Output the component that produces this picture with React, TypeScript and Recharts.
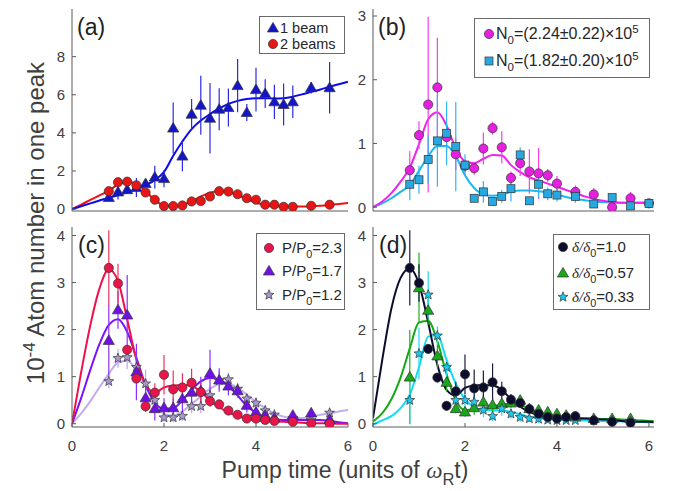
import React from 'react';
import { ComposedChart, Line, Scatter, XAxis, YAxis, ErrorBar } from 'recharts';

const FONT = '"Liberation Sans", Arial, Helvetica, sans-serif';
const AXIS = '#5a5a5a';
const TXT = '#404040';

// time grid for the fitted curves (units of omega_R t)
const fitTimes = [0, 0.2, 0.4, 0.6, 0.8, 1.0, 1.2, 1.4, 1.6, 1.8, 2.0, 2.2, 2.4, 2.6, 2.8, 3.0, 3.2, 3.4, 3.6, 3.8, 4.0, 4.2, 4.4, 4.6, 4.8, 5.0, 5.2, 5.4, 5.6, 5.8, 6.0];
const fitTimesWide = [0, 0.2, 0.4, 0.6, 0.8, 1.0, 1.2, 1.4, 1.6, 1.8, 2.0, 2.2, 2.4, 2.6, 2.8, 3.0, 3.2, 3.4, 3.6, 3.8, 4.0, 4.2, 4.4, 4.6, 4.8, 5.0, 5.2, 5.4, 5.6, 5.8, 6.0, 6.1];

// (a)
const timesA = [0.8, 1.0, 1.2, 1.4, 1.6, 1.8, 2.0, 2.2, 2.4, 2.6, 2.8, 3.0, 3.2, 3.4, 3.6, 3.8, 4.0, 4.2, 4.4, 4.6, 4.8, 5.2, 5.6];
const oneBeam = [0.61, 0.9, 1.02, 1.13, 1.34, 1.68, 1.6, 4.25, 2.78, 4.98, 5.45, 4.77, 5.24, 5.33, 6.48, 5.07, 6.27, 6.06, 5.63, 5.49, 5.63, 6.37, 6.37];
const oneBeamErr = [0.1, 0.4, 0.2, 0.5, 0.2, 0.6, 0.45, 1.35, 0.8, 0.8, 1.55, 1.85, 1.1, 1.0, 1.4, 0.45, 1.15, 0.75, 0.9, 1.1, 0.85, 0.3, 1.35];
const twoBeams = [0.94, 1.41, 1.44, 1.25, 0.87, 0.49, 0.16, 0.16, 0.19, 0.4, 0.42, 0.66, 0.94, 0.92, 0.78, 0.57, 0.49, 0.23, 0.23, 0.12, 0.12, 0.17, 0.23];
const twoBeamsErr = [0.1, 0.15, 0.2, 0.15, 0.1, 0.1, 0.08, 0.08, 0.1, 0.15, 0.15, 0.15, 0.2, 0.1, 0.1, 0.1, 0.08, 0.08, 0.08, 0.05, 0.05, 0.05, 0.05];
const oneBeamFit = [0, 0.15, 0.3, 0.45, 0.6, 0.73, 0.88, 1.05, 1.25, 1.52, 1.95, 2.8, 3.55, 4.2, 4.65, 4.98, 5.28, 5.52, 5.68, 5.78, 5.82, 5.82, 5.8, 5.82, 5.9, 6.02, 6.15, 6.28, 6.42, 6.55, 6.68];
const twoBeamsFit = [0, 0.24, 0.48, 0.72, 0.96, 1.3, 1.44, 1.34, 0.94, 0.47, 0.2, 0.16, 0.22, 0.42, 0.66, 0.86, 0.95, 0.9, 0.74, 0.53, 0.33, 0.22, 0.16, 0.14, 0.14, 0.14, 0.15, 0.18, 0.22, 0.27, 0.32];

// (b)
const timesB = [0.8, 1.0, 1.2, 1.4, 1.6, 1.8, 2.0, 2.2, 2.4, 2.6, 2.8, 3.0, 3.2, 3.4, 3.6, 3.8, 4.0, 4.4, 4.8, 5.2, 5.6, 6.0];
const n224 = [0.58, 1.13, 1.61, 1.88, 1.1, 0.83, 0.65, 0.61, 0.92, 1.24, 0.94, 0.46, 0.69, 0.56, 0.53, 0.5, 0.37, 0.24, 0.2, 0.0, 0.14, 0.06];
const n224Err = [0.3, 0.22, 1.38, 0.78, 0.2, 0.25, 0.1, 0.1, 0.25, 0.1, 0.25, 0.1, 0.2, 0.35, 0.4, 0.1, 0.12, 0.1, 0.1, 0.05, 0.1, 0.05];
const n182 = [0.36, 0.43, 0.75, 1.04, 1.16, 0.95, 0.66, 0.14, 0.24, 0.09, 0.17, 0.29, 0.82, 0.1, 0.36, 0.21, 0.19, 0.17, 0.05, 0.15, 0.02, 0.06];
const n182Err = [0.25, 0.22, 0.38, 0.72, 0.5, 0.7, 0.17, 0.05, 0.17, 0.05, 0.1, 0.2, 0.12, 0.05, 0.22, 0.1, 0.1, 0.1, 0.05, 0.05, 0.05, 0.03];
const n224Fit = [0, 0.09, 0.22, 0.4, 0.62, 0.99, 1.38, 1.49, 1.28, 0.92, 0.72, 0.69, 0.76, 0.82, 0.81, 0.66, 0.55, 0.47, 0.42, 0.37, 0.32, 0.27, 0.22, 0.17, 0.13, 0.1, 0.08, 0.07, 0.07, 0.07, 0.07, 0.07];
const n182Fit = [0, 0.06, 0.14, 0.24, 0.35, 0.57, 0.8, 0.96, 0.96, 0.8, 0.5, 0.3, 0.2, 0.18, 0.2, 0.24, 0.26, 0.26, 0.25, 0.23, 0.2, 0.16, 0.13, 0.11, 0.09, 0.08, 0.07, 0.07, 0.07, 0.07, 0.07, 0.07];

// (c) and (d)
const timesCD = [0.8, 1.0, 1.2, 1.4, 1.6, 1.8, 2.0, 2.2, 2.4, 2.6, 2.8, 3.0, 3.2, 3.4, 3.6, 3.8, 4.0, 4.2, 4.4, 4.8, 5.2, 5.6];
const p23 = [3.31, 2.98, 1.57, 0.96, 0.37, 0.66, 1.04, 0.73, 0.77, 0.87, 0.67, 0.48, 0.41, 0.28, 0.19, 0.11, 0.11, 0.08, 0.06, 0.04, 0.01, 0.0];
const p23Err = [0.8, 0.42, 0.1, 0.1, 0.1, 0.2, 0.42, 0.4, 0.3, 0.3, 0.2, 0.12, 0.1, 0.08, 0.06, 0.05, 0.05, 0.04, 0.03, 0.02, 0.02, 0.02];
const p17 = [1.77, 2.42, 2.31, 1.1, 0.55, 0.32, 0.34, 0.34, 0.53, 0.67, 0.7, 1.07, 0.93, 0.8, 0.7, 0.39, 0.25, 0.18, 0.12, 0.18, 0.23, 0.09];
const p17Err = [0.75, 0.4, 0.85, 0.6, 0.3, 0.25, 0.2, 0.2, 0.3, 0.3, 0.3, 0.5, 0.25, 0.2, 0.15, 0.15, 0.1, 0.1, 0.05, 0.05, 0.05, 0.05];
const p12 = [0.9, 1.39, 1.41, 1.2, 0.85, 0.5, 0.13, 0.13, 0.16, 0.37, 0.37, 0.6, 0.92, 0.94, 0.74, 0.53, 0.44, 0.28, 0.19, 0.12, 0.08, 0.23];
const p12Err = [0.15, 0.2, 0.25, 0.3, 0.3, 0.2, 0.1, 0.1, 0.1, 0.15, 0.15, 0.2, 0.2, 0.15, 0.1, 0.1, 0.1, 0.08, 0.05, 0.05, 0.05, 0.05];
const p23Fit = [0, 1.1, 2.1, 2.88, 3.28, 3.03, 2.22, 1.36, 0.84, 0.66, 0.77, 0.81, 0.82, 0.8, 0.68, 0.49, 0.35, 0.24, 0.16, 0.11, 0.07, 0.06, 0.05, 0.04, 0.03, 0.02, 0.01, 0.01, 0.01, 0, 0];
const p17Fit = [0, 0.55, 1.15, 1.7, 2.1, 2.22, 1.95, 1.4, 0.82, 0.45, 0.32, 0.33, 0.5, 0.72, 0.9, 0.97, 0.94, 0.8, 0.6, 0.38, 0.23, 0.14, 0.09, 0.08, 0.08, 0.08, 0.08, 0.08, 0.06, 0.03, 0.01];
const p12Fit = [0, 0.22, 0.48, 0.78, 1.06, 1.3, 1.34, 1.14, 0.8, 0.45, 0.21, 0.17, 0.26, 0.42, 0.58, 0.74, 0.84, 0.85, 0.76, 0.62, 0.46, 0.33, 0.22, 0.15, 0.12, 0.12, 0.15, 0.19, 0.22, 0.26, 0.29];

const d10 = [3.31, 2.99, 1.59, 0.98, 0.38, 0.69, 1.05, 0.75, 0.77, 0.88, 0.69, 0.51, 0.44, 0.31, 0.21, 0.14, 0.11, 0.14, 0.16, 0.07, 0.04, 0.02];
const d10Err = [0.8, 0.4, 0.1, 0.1, 0.1, 0.2, 0.42, 0.4, 0.36, 0.4, 0.2, 0.12, 0.1, 0.08, 0.06, 0.05, 0.05, 0.04, 0.03, 0.02, 0.02, 0.02];
const d057 = [0.99, 2.89, 2.41, 1.44, 0.88, 0.32, 0.25, 0.34, 0.46, 0.4, 0.43, 0.44, 0.5, 0.32, 0.29, 0.25, 0.21, 0.18, 0.14, 0.11, 0.11, 0.11];
const d057Err = [1.0, 0.75, 0.3, 0.25, 0.2, 0.1, 0.1, 0.15, 0.15, 0.15, 0.1, 0.1, 0.1, 0.1, 0.08, 0.08, 0.06, 0.05, 0.05, 0.04, 0.04, 0.04];
const d033 = [0.5, 1.49, 2.74, 1.87, 1.2, 0.5, 0.5, 0.46, 0.29, 0.16, 0.32, 0.21, 0.14, 0.11, 0.1, 0.08, 0.07, 0.07, 0.07, 0.07, 0.06, 0.05];
const d033Err = [0.5, 0.55, 0.5, 0.2, 0.2, 0.15, 0.15, 0.15, 0.15, 0.1, 0.15, 0.1, 0.1, 0.08, 0.08, 0.06, 0.06, 0.05, 0.05, 0.05, 0.05, 0.05];
const d10Fit = [0.12, 1.35, 2.45, 3.1, 3.3, 2.97, 2.15, 1.25, 0.72, 0.6, 0.76, 0.81, 0.82, 0.81, 0.72, 0.52, 0.36, 0.25, 0.18, 0.14, 0.12, 0.11, 0.11, 0.11, 0.1, 0.09, 0.08, 0.06, 0.05, 0.04, 0.04, 0.03];
const d057Fit = [0.05, 0.22, 0.52, 0.98, 1.6, 2.15, 2.18, 1.75, 1.05, 0.5, 0.29, 0.3, 0.33, 0.37, 0.4, 0.43, 0.4, 0.32, 0.24, 0.19, 0.16, 0.14, 0.12, 0.11, 0.11, 0.1, 0.1, 0.09, 0.08, 0.07, 0.06, 0.06];
const d033Fit = [-0.02, 0.07, 0.16, 0.33, 0.62, 1.2, 1.85, 1.88, 1.35, 0.85, 0.52, 0.35, 0.29, 0.28, 0.28, 0.25, 0.2, 0.15, 0.12, 0.1, 0.09, 0.08, 0.08, 0.07, 0.07, 0.06, 0.06, 0.05, 0.05, 0.04, 0.03, 0.03];

const xTicks = [0, 2, 4, 6];
const yTicksA = [0, 2, 4, 6, 8];
const yTicksB = [0, 1, 2, 3];
const yTicksCD = [0, 1, 2, 3, 4];

const pts = (xs: number[], ys: number[], es?: number[]) =>
  xs.map((x, i) => ({ x, y: ys[i], err: es ? es[i] : 0 }));

const EDGE = '#333';

const circleShape = (fill: string, r = 4.6) => (p: any) => (
  <circle cx={p.cx} cy={p.cy} r={r} fill={fill} stroke={EDGE} strokeWidth={0.7} />
);
const triangleShape = (fill: string) => (p: any) => (
  <path
    d={`M${p.cx},${p.cy - 5.6} L${p.cx + 5.6},${p.cy + 4} L${p.cx - 5.6},${p.cy + 4} Z`}
    fill={fill}
    stroke={EDGE}
    strokeWidth={0.7}
  />
);
const squareShape = (fill: string) => (p: any) => (
  <rect x={p.cx - 4} y={p.cy - 4} width={8} height={8} fill={fill} stroke={EDGE} strokeWidth={0.7} />
);
const starShape = (fill: string) => (p: any) => {
  const out = 5.2;
  const inn = 2.2;
  let d = '';
  for (let k = 0; k < 10; k++) {
    const r = k % 2 === 0 ? out : inn;
    const a = -Math.PI / 2 + (k * Math.PI) / 5;
    d += `${k === 0 ? 'M' : 'L'}${p.cx + r * Math.cos(a)},${p.cy + r * Math.sin(a)} `;
  }
  return <path d={d + 'Z'} fill={fill} stroke={EDGE} strokeWidth={0.7} />;
};

const YW = 40;
const RM = 10;

interface PanelProps {
  left: number;
  top: number;
  width: number;
  height: number;
  xMax: number;
  yDomain: [number, number];
  yTicks: number[];
  xLabels: boolean;
  children: React.ReactNode;
}

function Panel({ left, top, width, height, xMax, yDomain, yTicks, xLabels, children }: PanelProps) {
  const xh = xLabels ? 30 : 12;
  const tickFont = { fill: TXT, fontSize: 15, fontFamily: FONT };
  return (
    <div style={{ position: 'absolute', left: left - YW, top: top - 2 }}>
      <ComposedChart
        width={YW + width + RM}
        height={height + 2 + xh}
        margin={{ top: 2, right: RM, bottom: 0, left: 0 }}
      >
        <XAxis
          dataKey="x"
          type="number"
          domain={[0, xMax]}
          ticks={xTicks}
          interval={0}
          allowDataOverflow
          height={xh}
          stroke={AXIS}
          tickSize={-4}
          tickMargin={17}
          tick={xLabels ? tickFont : false}
        />
        <XAxis
          xAxisId="top"
          orientation="top"
          type="number"
          domain={[0, xMax]}
          ticks={xTicks}
          interval={0}
          allowDataOverflow
          height={0}
          stroke={AXIS}
          tickSize={-4}
          tick={false}
        />
        <YAxis
          dataKey="y"
          type="number"
          domain={yDomain}
          ticks={yTicks}
          interval={0}
          allowDataOverflow
          width={YW}
          stroke={AXIS}
          tickSize={-4}
          tickMargin={11}
          tick={tickFont}
        />
        <YAxis
          yAxisId="right"
          orientation="right"
          type="number"
          domain={yDomain}
          ticks={yTicks}
          interval={0}
          allowDataOverflow
          width={0}
          stroke={AXIS}
          tickSize={-4}
          tick={false}
        />
        {children}
      </ComposedChart>
    </div>
  );
}

const fitLine = (xs: number[], ys: number[], color: string, key: string) => (
  <Line
    key={key}
    data={pts(xs, ys)}
    dataKey="y"
    type="monotone"
    stroke={color}
    strokeWidth={2}
    dot={false}
    activeDot={false}
    isAnimationActive={false}
  />
);

const points = (
  xs: number[],
  ys: number[],
  es: number[],
  shape: (p: any) => React.ReactElement,
  errColor: string,
  key: string,
) => (
  <Scatter key={key} data={pts(xs, ys, es)} dataKey="y" shape={shape} isAnimationActive={false}>
    <ErrorBar dataKey="err" direction="y" width={0} stroke={errColor} strokeWidth={1.2} />
  </Scatter>
);

function Marker({ shape }: { shape: (p: any) => React.ReactElement }) {
  return (
    <svg width={16} height={16} style={{ position: 'absolute', left: -8, top: -8, overflow: 'visible' }}>
      {shape({ cx: 8, cy: 8 })}
    </svg>
  );
}

interface Row {
  shape: (p: any) => React.ReactElement;
  label: React.ReactNode;
  y: number;
}

function LegendBox({ left, top, width, height, mx, tx, rows, fontSize = 15 }: { left: number; top: number; width: number; height: number; mx: number; tx: number; rows: Row[]; fontSize?: number }) {
  return (
    <div
      style={{
        position: 'absolute',
        left,
        top,
        width,
        height,
        border: '1px solid #6a6a6a',
        background: '#fff',
        boxSizing: 'border-box',
      }}
    >
      {rows.map((r, i) => (
        <React.Fragment key={i}>
          <div style={{ position: 'absolute', left: mx, top: r.y }}>
            <Marker shape={r.shape} />
          </div>
          <div
            style={{
              position: 'absolute',
              left: tx,
              top: r.y - 7,
              height: 14,
              lineHeight: '14px',
              fontSize,
              fontFamily: FONT,
              color: '#262626',
              whiteSpace: 'nowrap',
            }}
          >
            {r.label}
          </div>
        </React.Fragment>
      ))}
    </div>
  );
}

const sub = { fontSize: '72%', verticalAlign: '-0.45em', lineHeight: 0 } as React.CSSProperties;
const sup = { fontSize: '72%', verticalAlign: '0.5em', lineHeight: 0 } as React.CSSProperties;
const delta = <span style={{ fontFamily: '"Liberation Serif", "DejaVu Serif", serif', fontStyle: 'italic' }}>δ/δ</span>;

const letterStyle = (left: number, top: number): React.CSSProperties => ({
  position: 'absolute',
  left,
  top,
  fontSize: 23,
  lineHeight: '26px',
  fontFamily: FONT,
  color: '#222',
});

export default function App() {
  return (
    <div style={{ position: 'fixed', left: 0, top: 0, width: 673, height: 491, background: '#fff', overflow: 'hidden' }}>
      <Panel left={72} top={9} width={276} height={202} xMax={6} yDomain={[-0.1, 10.5]} yTicks={yTicksA} xLabels={false}>
        {fitLine(fitTimes, twoBeamsFit, '#f01010', 'fr')}
        {fitLine(fitTimes, oneBeamFit, '#0a0af0', 'fb')}
        {points(timesA, oneBeam, oneBeamErr, triangleShape('#1515c8'), '#2a2ae8', 'pb')}
        {points(timesA, twoBeams, twoBeamsErr, circleShape('#e81515'), '#f02020', 'pr')}
      </Panel>
      <Panel left={373} top={9} width={281} height={202} xMax={6.11} yDomain={[-0.06, 3.11]} yTicks={yTicksB} xLabels={false}>
        {fitLine(fitTimesWide, n182Fit, '#1ab8f0', 'fc')}
        {fitLine(fitTimesWide, n224Fit, '#f020f0', 'fm')}
        {points(timesB, n224, n224Err, circleShape('#e520e0'), '#f040f0', 'pm')}
        {points(timesB, n182, n182Err, squareShape('#28a8e0'), '#30b4f0', 'pc')}
      </Panel>
      <Panel left={72} top={227} width={276} height={200} xMax={6} yDomain={[-0.07, 4.18]} yTicks={yTicksCD} xLabels>
        {fitLine(fitTimes, p12Fit, '#c4aaf2', 'f12')}
        {fitLine(fitTimes, p17Fit, '#7a10ff', 'f17')}
        {fitLine(fitTimes, p23Fit, '#f0104a', 'f23')}
        {points(timesCD, p12, p12Err, starShape('#a898cc'), '#c0a8f0', 'p12')}
        {points(timesCD, p17, p17Err, triangleShape('#7010e8'), '#8a30ff', 'p17')}
        {points(timesCD, p23, p23Err, circleShape('#e8144a'), '#f0305a', 'p23')}
      </Panel>
      <Panel left={373} top={227} width={281} height={200} xMax={6.11} yDomain={[-0.07, 4.18]} yTicks={yTicksCD} xLabels>
        {fitLine(fitTimesWide, d057Fit, '#14a814', 'g')}
        {fitLine(fitTimesWide, d033Fit, '#10dcf8', 'c')}
        {fitLine(fitTimesWide, d10Fit, '#0c0c30', 'n')}
        {points(timesCD, d057, d057Err, triangleShape('#1aa81a'), '#20b020', 'pg')}
        {points(timesCD, d033, d033Err, starShape('#1ec8ee'), '#20d8f8', 'pcy')}
        {points(timesCD, d10, d10Err, circleShape('#0c0c2c'), '#1a1a40', 'pn')}
      </Panel>

      <div style={letterStyle(77, 14)}>(a)</div>
      <div style={letterStyle(378, 14)}>(b)</div>
      <div style={letterStyle(78, 232)}>(c)</div>
      <div style={letterStyle(379, 232)}>(d)</div>

      <LegendBox
        left={259}
        top={16}
        width={86}
        height={38}
        mx={13}
        tx={20}
        fontSize={14.5}
        rows={[
          { shape: triangleShape('#1515c8'), label: '1 beam', y: 11 },
          { shape: circleShape('#e81515'), label: '2 beams', y: 27 },
        ]}
      />
      <LegendBox
        left={474}
        top={18}
        width={176}
        height={60}
        mx={14}
        tx={21}
        fontSize={16}
        rows={[
          { shape: circleShape('#e520e0'), label: <span>N<span style={sub}>0</span>=(2.24±0.22)×10<span style={sup}>5</span></span>, y: 15 },
          { shape: squareShape('#28a8e0'), label: <span>N<span style={sub}>0</span>=(1.82±0.20)×10<span style={sup}>5</span></span>, y: 42 },
        ]}
      />
      <LegendBox
        left={256}
        top={233}
        width={89}
        height={77}
        mx={12}
        tx={25}
        rows={[
          { shape: circleShape('#e8144a'), label: <span>P/P<span style={sub}>0</span>=2.3</span>, y: 14 },
          { shape: triangleShape('#7010e8'), label: <span>P/P<span style={sub}>0</span>=1.7</span>, y: 37 },
          { shape: starShape('#a898cc'), label: <span>P/P<span style={sub}>0</span>=1.2</span>, y: 61 },
        ]}
      />
      <LegendBox
        left={553}
        top={234}
        width={97}
        height={76}
        mx={9}
        tx={18}
        rows={[
          { shape: circleShape('#0c0c2c'), label: <span>{delta}<span style={sub}>0</span>=1.0</span>, y: 12 },
          { shape: triangleShape('#1aa81a'), label: <span>{delta}<span style={sub}>0</span>=0.57</span>, y: 38 },
          { shape: starShape('#1ec8ee'), label: <span>{delta}<span style={sub}>0</span>=0.33</span>, y: 62 },
        ]}
      />

      <div
        style={{
          position: 'absolute',
          left: 36 - 200,
          top: 223 - 14,
          width: 400,
          height: 28,
          lineHeight: '28px',
          textAlign: 'center',
          transform: 'rotate(-90deg)',
          fontSize: 24,
          fontFamily: FONT,
          color: TXT,
          whiteSpace: 'nowrap',
        }}
      >
        10<span style={sup}>-4</span> Atom number in one peak
      </div>
      <div
        style={{
          position: 'absolute',
          left: 345 - 200,
          top: 456,
          width: 400,
          lineHeight: '28px',
          textAlign: 'center',
          fontSize: 23,
          fontFamily: FONT,
          color: TXT,
          whiteSpace: 'nowrap',
        }}
      >
        Pump time (units of <span style={{ fontFamily: '"Liberation Serif", serif', fontStyle: 'italic' }}>ω</span>
        <span style={sub}>R</span>t)
      </div>
    </div>
  );
}
